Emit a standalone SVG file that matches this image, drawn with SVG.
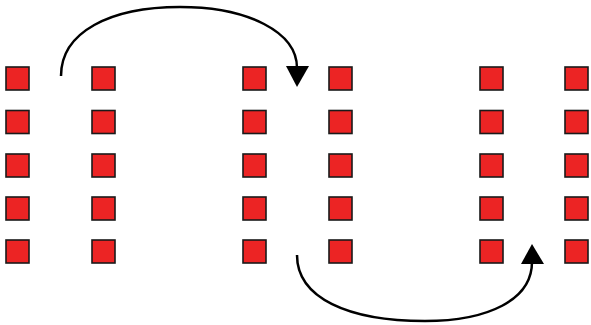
<svg xmlns="http://www.w3.org/2000/svg" width="591" height="325" viewBox="0 0 591 325">
<defs>
<style>
.sq{fill:#ec2424;stroke:#1a1a1a;stroke-width:1.6}
.arc{fill:none;stroke:#000;stroke-width:2.5}
</style>
<rect id="s" class="sq" x="0" y="0" width="23" height="23"/>
</defs>
<rect width="591" height="325" fill="#fff"/>
<g id="col1">
<use href="#s" x="6" y="67"/><use href="#s" x="6" y="110.5"/><use href="#s" x="6" y="154"/><use href="#s" x="6" y="197"/><use href="#s" x="6" y="240"/>
</g>
<g id="col2">
<use href="#s" x="92" y="67"/><use href="#s" x="92" y="110.5"/><use href="#s" x="92" y="154"/><use href="#s" x="92" y="197"/><use href="#s" x="92" y="240"/>
</g>
<g id="col3">
<use href="#s" x="243" y="67"/><use href="#s" x="243" y="110.5"/><use href="#s" x="243" y="154"/><use href="#s" x="243" y="197"/><use href="#s" x="243" y="240"/>
</g>
<g id="col4">
<use href="#s" x="329" y="67"/><use href="#s" x="329" y="110.5"/><use href="#s" x="329" y="154"/><use href="#s" x="329" y="197"/><use href="#s" x="329" y="240"/>
</g>
<g id="col5">
<use href="#s" x="480" y="67"/><use href="#s" x="480" y="110.5"/><use href="#s" x="480" y="154"/><use href="#s" x="480" y="197"/><use href="#s" x="480" y="240"/>
</g>
<g id="col6">
<use href="#s" x="565" y="67"/><use href="#s" x="565" y="110.5"/><use href="#s" x="565" y="154"/><use href="#s" x="565" y="197"/><use href="#s" x="565" y="240"/>
</g>
<g id="connectors">
<path class="arc" d="M61,76 C61,32 110,7 180,7 C248,7 297,32 297,68"/>
<polygon points="286,66 309,66 297,87" fill="#000"/>
<path class="arc" d="M297,255 C297,298 348,321 425,321 C488,321 532,300 532,262"/>
<polygon points="521,264 544,264 532,244" fill="#000"/>
</g>
</svg>
